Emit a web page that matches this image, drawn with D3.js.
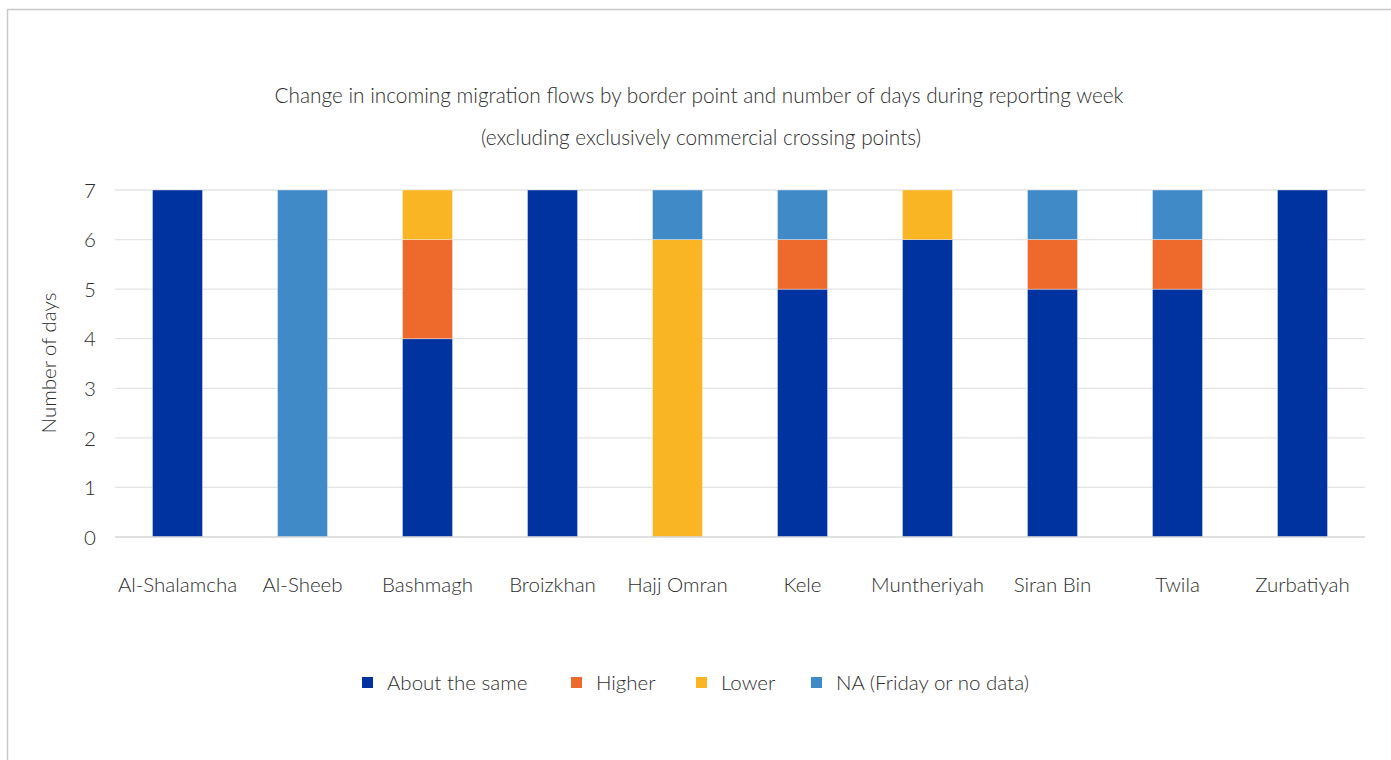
<!DOCTYPE html>
<html>
<head>
<meta charset="utf-8">
<script src="https://cdn.jsdelivr.net/npm/d3@7"></script>
<style>
  body { margin: 0; background: #fff; }
  svg text { font-family: Lato, "Open Sans", sans-serif; fill: #2e2e2e; font-weight: 300; }
</style>
</head>
<body>
<svg id="chart" width="1391" height="760"></svg>
<script>
var borderPoints = ["Al-Shalamcha", "Al-Sheeb", "Bashmagh", "Broizkhan", "Hajj Omran", "Kele", "Muntheriyah", "Siran Bin", "Twila", "Zurbatiyah"];
var aboutSame = [7, 0, 4, 7, 0, 5, 6, 5, 5, 7];
var higher    = [0, 0, 2, 0, 0, 1, 0, 1, 1, 0];
var lower     = [0, 0, 1, 0, 6, 0, 1, 0, 0, 0];
var naDays    = [0, 7, 0, 0, 1, 1, 0, 1, 1, 0];
var seriesNames = ["About the same", "Higher", "Lower", "NA (Friday or no data)"];
var seriesColors = ["#0033a0", "#ed6a2c", "#f9b524", "#418ac8"];
var yTicks = [0, 1, 2, 3, 4, 5, 6, 7];

var svg = d3.select("#chart");
var m = { left: 115, right: 1365, top: 190, bottom: 537 };

// frame
svg.append("rect").attr("x", 7.5).attr("y", 9.5).attr("width", 1400).attr("height", 800)
    .attr("fill", "none").attr("stroke", "#c8c8c8").attr("stroke-width", 1.5);

svg.append("text").attr("x", 699).attr("y", 103).attr("text-anchor", "middle")
    .style("font-size", "20.8px")
    .text("Change in incoming migration flows by border point and number of days during reporting week");
svg.append("text").attr("x", 701).attr("y", 145).attr("text-anchor", "middle")
    .style("font-size", "20.8px")
    .text("(excluding exclusively commercial crossing points)");

var table = borderPoints.map(function(p, i) {
    return { point: p, s0: aboutSame[i], s1: higher[i], s2: lower[i], s3: naDays[i] };
});
var keys = ["s0", "s1", "s2", "s3"];
var stacked = d3.stack().keys(keys)(table);

var x = d3.scaleBand().domain(borderPoints).range([m.left, m.right]).paddingInner(0.6).paddingOuter(0.3);
var y = d3.scaleLinear().domain([0, 7]).range([m.bottom, m.top]);

// gridlines
svg.append("g").selectAll("line").data(yTicks.slice(1)).enter().append("line")
    .attr("x1", m.left).attr("x2", m.right)
    .attr("y1", d => y(d)).attr("y2", d => y(d))
    .attr("stroke", "#e3e3e3").attr("stroke-width", 1.3);

// bars
svg.append("g").selectAll("g").data(stacked).enter().append("g")
    .attr("fill", (d, i) => seriesColors[i])
    .selectAll("rect").data(d => d).enter().append("rect")
    .filter(d => d[1] - d[0] > 0)
    .attr("x", d => x(d.data.point))
    .attr("y", d => y(d[1]))
    .attr("width", x.bandwidth())
    .attr("height", d => y(d[0]) - y(d[1]))
    .attr("stroke", "#ffffff").attr("stroke-opacity", 0.45).attr("stroke-width", 0.8);

// baseline
svg.append("line").attr("x1", m.left).attr("x2", m.right)
    .attr("y1", y(0)).attr("y2", y(0)).attr("stroke", "#d4d4d4").attr("stroke-width", 1.6);

// y axis
var yAxis = svg.append("g").attr("transform", "translate(" + (m.left - 19) + ",0)")
    .call(d3.axisLeft(y).tickValues(yTicks).tickSize(0).tickFormat(d3.format("d")));
yAxis.select(".domain").remove();
yAxis.selectAll("text").style("font-size", "20.5px").attr("dy", "0.35em").attr("x", 0);

// x axis
var xAxis = svg.append("g").attr("transform", "translate(0," + (m.bottom + 37) + ")")
    .call(d3.axisBottom(x).tickSize(0));
xAxis.select(".domain").remove();
xAxis.selectAll("text").style("font-size", "20.5px").attr("dy", "0.71em");

svg.append("text").attr("transform", "translate(56,363) rotate(-90)")
    .attr("text-anchor", "middle").style("font-size", "20.5px")
    .text("Number of days");

// legend
var legendX = [362, 571, 696, 811];
var legend = svg.append("g").selectAll("g").data(seriesNames).enter().append("g")
    .attr("transform", (d, i) => "translate(" + legendX[i] + ",683)");
legend.append("rect").attr("x", 0).attr("y", -6).attr("width", 11).attr("height", 11)
    .attr("fill", (d, i) => seriesColors[i]);
legend.append("text").attr("x", 25).attr("dy", "0.35em").style("font-size", "20.5px").text(d => d);
</script>
</body>
</html>
